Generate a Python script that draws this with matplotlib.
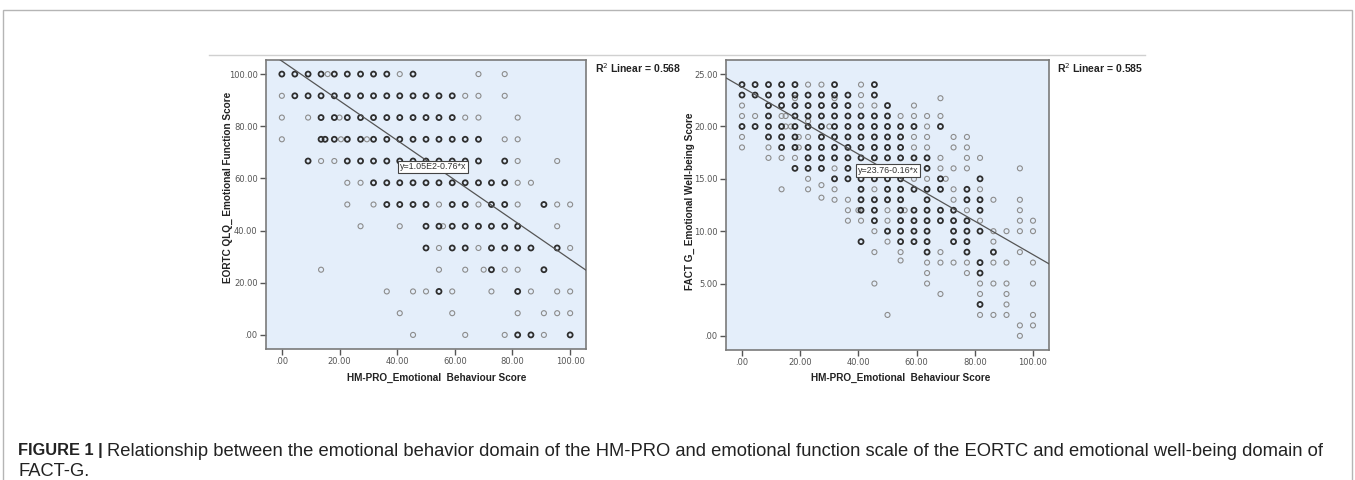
import numpy as np
import matplotlib
matplotlib.use("Agg")
import matplotlib.pyplot as plt
from matplotlib.patches import Rectangle
from matplotlib.lines import Line2D

# ---- data ----
# each row: (y value, x values, darkness per point: b = dark/overlapping, l = light)
eortc_rows = [
    (100.0, [0, 4.5, 9.1, 13.6, 15.9, 18.2, 22.7, 27.3, 31.8, 36.4, 40.9, 45.5, 68.2, 77.3], "bbbblbbbbblbll"),
    (91.67, [0, 4.5, 9.1, 13.6, 18.2, 22.7, 27.3, 31.8, 36.4, 40.9, 45.5, 50, 54.5, 59.1, 63.6, 68.2, 77.3], "lbbbbbbbbbbbbblll"),
    (83.33, [0, 9.1, 13.6, 18.2, 20.0, 22.7, 27.3, 31.8, 36.4, 40.9, 45.5, 50, 54.5, 59.1, 63.6, 68.2, 81.8], "llbblbbbbbbbbblll"),
    (75.0, [0, 13.6, 15.0, 18.2, 20.5, 22.7, 27.3, 29.5, 31.8, 36.4, 40.9, 45.5, 50, 54.5, 59.1, 63.6, 68.2, 77.3, 81.8], "lbbblbblbbbbbbbbbll"),
    (66.67, [9.1, 13.6, 18.2, 22.7, 27.3, 31.8, 36.4, 40.9, 45.5, 50, 54.5, 59.1, 63.6, 68.2, 77.3, 81.8, 95.5], "bllbbbbbbbbbbbbll"),
    (58.33, [22.7, 27.3, 31.8, 36.4, 40.9, 45.5, 50, 54.5, 59.1, 63.6, 68.2, 72.7, 77.3, 81.8, 86.4], "llbbbbbbbbbbbll"),
    (50.0, [22.7, 31.8, 36.4, 40.9, 45.5, 50, 54.5, 59.1, 63.6, 68.2, 72.7, 77.3, 81.8, 90.9, 95.5, 100], "llbbbblbblbblbll"),
    (41.67, [27.3, 40.9, 50, 54.5, 55.9, 59.1, 63.6, 68.2, 72.7, 77.3, 81.8, 95.5], "llbblbbbbbbl"),
    (33.33, [50, 54.5, 59.1, 63.6, 68.2, 72.7, 77.3, 81.8, 86.4, 95.5, 100], "blbblbbbbbl"),
    (25.0, [13.6, 54.5, 63.6, 70.0, 72.7, 77.3, 81.8, 90.9], "llllbllb"),
    (16.67, [36.4, 45.5, 50, 54.5, 59.1, 72.7, 81.8, 86.4, 95.5, 100], "lllbllblll"),
    (8.33, [40.9, 59.1, 81.8, 90.9, 95.5, 100], "llllll"),
    (0.0, [45.5, 63.6, 77.3, 81.8, 86.4, 90.9, 100], "lllbblb"),
]

factg_rows = [
    (24, [0, 4.5, 9.1, 13.6, 18.2, 22.7, 27.3, 31.8, 40.9, 45.5], "bbbbbllblb"),
    (23, [0, 4.5, 9.1, 13.6, 18.2, 22.7, 27.3, 31.8, 36.4, 40.9, 45.5], "bbbbbbbbblb"),
    (22.7, [18.2, 31.8, 68.2], "lll"),
    (22, [0, 9.1, 13.6, 18.2, 22.7, 27.3, 31.8, 36.4, 40.9, 45.5, 50, 59.1], "lbbbbbbbllbl"),
    (21, [0, 4.5, 9.1, 13.6, 15.0, 18.2, 22.7, 27.3, 31.8, 36.4, 40.9, 45.5, 50, 54.5, 59.1, 63.6, 68.2], "llbllbbbbbbbbllll"),
    (20.5, [22.7], "l"),
    (20, [0, 4.5, 9.1, 13.6, 15.0, 16.8, 18.2, 22.7, 27.3, 30.0, 31.8, 36.4, 40.9, 45.5, 50, 54.5, 59.1, 63.6, 68.2], "bbbbllbbblbbbbbbblb"),
    (19, [0, 9.1, 13.6, 18.2, 19.5, 22.7, 27.3, 31.8, 36.4, 40.9, 45.5, 50, 54.5, 59.1, 63.6, 72.7, 77.3], "lbbbllbbbbbbbllll"),
    (18, [0, 9.1, 13.6, 18.2, 19.5, 22.7, 27.3, 31.8, 36.4, 40.9, 45.5, 50, 54.5, 59.1, 63.6, 72.7, 77.3], "llbblbbbbbbbbllll"),
    (17, [9.1, 13.6, 18.2, 22.7, 27.3, 31.8, 36.4, 40.9, 45.5, 50, 54.5, 59.1, 63.6, 68.2, 77.3, 81.8], "lllbbbbbbbbbblll"),
    (16, [18.2, 22.7, 27.3, 31.8, 36.4, 40.9, 45.5, 50, 54.5, 59.1, 63.6, 68.2, 72.7, 77.3, 95.5], "bbblbbbbbbbllll"),
    (15, [22.7, 31.8, 36.4, 40.9, 45.5, 50, 54.5, 59.1, 63.6, 68.2, 70.0, 81.8], "lbbbbbbllblb"),
    (14.4, [27.3], "l"),
    (14, [13.6, 22.7, 31.8, 40.9, 45.5, 50, 54.5, 59.1, 63.6, 68.2, 72.7, 77.3, 81.8], "lllblbbbbblbl"),
    (13.2, [27.3], "l"),
    (13, [31.8, 36.4, 40.9, 45.5, 50, 54.5, 63.6, 72.7, 77.3, 81.8, 86.4, 95.5], "llbbbbblbbll"),
    (12, [36.4, 40.0, 40.9, 45.5, 50, 54.5, 55.9, 59.1, 63.6, 68.2, 72.7, 77.3, 81.8, 95.5], "llbblblbbbblbl"),
    (11, [36.4, 40.9, 45.5, 50, 54.5, 59.1, 63.6, 68.2, 72.7, 77.3, 81.8, 95.5, 100], "llblbbbbbblll"),
    (10, [45.5, 50, 54.5, 59.1, 63.6, 72.7, 77.3, 81.8, 86.4, 90.9, 95.5, 100], "lbbbbbbbllll"),
    (9, [40.9, 50, 54.5, 59.1, 63.6, 72.7, 77.3, 86.4], "blbbbbbl"),
    (8, [45.5, 54.5, 63.6, 68.2, 77.3, 86.4, 95.5], "llblbbl"),
    (7.2, [54.5], "l"),
    (7, [63.6, 68.2, 72.7, 77.3, 81.8, 86.4, 90.9, 100], "llllblll"),
    (6, [63.6, 77.3, 81.8], "llb"),
    (5, [45.5, 63.6, 81.8, 86.4, 90.9, 100], "llllll"),
    (4, [68.2, 81.8, 90.9], "lll"),
    (3, [81.8, 90.9], "bl"),
    (2, [50, 81.8, 86.4, 90.9, 100], "lllll"),
    (1, [95.5, 100], "ll"),
    (0, [95.5], "l"),
]

eortc_fit = (105.0, -0.76)
factg_fit = (23.76, -0.16)
eortc_r2 = 0.568
factg_r2 = 0.585

x_ticks = [0, 20, 40, 60, 80, 100]
eortc_yticks = [0, 20, 40, 60, 80, 100]
factg_yticks = [0, 5, 10, 15, 20, 25]

caption_head = "FIGURE 1 | "
caption_line1 = ("Relationship between the emotional behavior domain of the HM-PRO and emotional function scale "
                 "of the EORTC and emotional well-being domain of")
caption_line2 = "FACT-G."

W, H = 1355, 480
fig = plt.figure(figsize=(W / 100, H / 100), dpi=100)
fig.patch.set_facecolor("white")

# outer frame and top rule
fig.patches.append(Rectangle((3 / W, -0.02), (W - 6) / W, 1.0, transform=fig.transFigure,
                             fill=False, edgecolor="#b5b5b5", lw=1.0))
fig.lines.append(Line2D([209 / W, 1145 / W], [1 - 55 / H, 1 - 55 / H], transform=fig.transFigure,
                        color="#d0d0d0", lw=1.0))

lab_font = dict(family="Liberation Sans", weight="bold", size=7.2, color="#222222")


def tick_fmt(v):
    s = "%.2f" % v
    return s[1:] if s.startswith("0") else s


def draw_panel(rect, rows, fit, r2, yticks, ylim, eq_text, eq_pos, ylabel, ylab_xy, r2_xy, xlab_x):
    ax = fig.add_axes(rect)
    ax.set_facecolor("#e4eefa")
    lx, ly, bx, by = [], [], [], []
    for y, xs, marks in rows:
        for x, m in zip(xs, marks):
            if m == "b":
                bx.append(x); by.append(y)
            else:
                lx.append(x); ly.append(y)
    ax.scatter(lx, ly, s=13, facecolors="none", edgecolors="#8c8c8c", linewidths=0.8, zorder=3)
    ax.scatter(bx, by, s=13, facecolors="none", edgecolors="#2e2e2e", linewidths=1.3, zorder=3)

    xx = np.array([-5.5, 105.5])
    ax.plot(xx, fit[0] + fit[1] * xx, color="#555555", lw=0.9, zorder=4)

    ax.text(eq_pos[0], eq_pos[1], eq_text, fontsize=6.4, family="Liberation Sans", color="#333333",
            ha="center", va="center", zorder=6,
            bbox=dict(boxstyle="square,pad=0.2", facecolor="white", edgecolor="#444444", lw=0.8))

    ax.set_xlim(-5.5, 105.5)
    ax.set_ylim(*ylim)
    ax.set_xticks(x_ticks)
    ax.set_xticklabels([tick_fmt(v) for v in x_ticks])
    ax.set_yticks(yticks)
    ax.set_yticklabels([tick_fmt(v) for v in yticks])
    ax.tick_params(length=4, width=1.0, color="#555555", labelsize=6, labelcolor="#555555", pad=2)
    for sp in ax.spines.values():
        sp.set_color("#7a7a7a")
        sp.set_linewidth(1.2)

    fig.text(xlab_x / W, 1 - 378 / H, "HM-PRO_Emotional  Behaviour Score", ha="center", va="center", **lab_font)
    fig.text(ylab_xy[0] / W, 1 - ylab_xy[1] / H, ylabel, rotation=90, ha="center", va="center", **lab_font)
    fig.text(r2_xy[0] / W, 1 - r2_xy[1] / H, "R$^2$ Linear = %.3f" % r2, ha="left", va="center",
             family="Liberation Sans", weight="bold", size=7.5, color="#222222")
    return ax


draw_panel([266 / W, (H - 349) / H, 320 / W, 289 / H], eortc_rows, eortc_fit, eortc_r2,
           eortc_yticks, (-5.4, 105.4), "y=1.05E2-0.76*x", (52.4, 64.4),
           "EORTC QLQ_ Emotional Function Score", (228, 187), (595, 68), 437)

draw_panel([726 / W, (H - 350) / H, 323 / W, 290 / H], factg_rows, factg_fit, factg_r2,
           factg_yticks, (-1.35, 26.35), "y=23.76-0.16*x", (50.2, 15.8),
           "FACT G_ Emotional Well-being Score", (690, 201), (1057, 68), 901)

# caption
head = fig.text(18 / W, 1 - 451 / H, caption_head, family="Liberation Sans", weight="bold",
                size=11.8, color="#222222", ha="left", va="center")
fig.canvas.draw()
hb = head.get_window_extent(fig.canvas.get_renderer())
fig.text(hb.x1 / W, 1 - 451 / H, caption_line1, family="Liberation Sans", size=13.2,
         color="#222222", ha="left", va="center")
fig.text(18 / W, 1 - 471 / H, caption_line2, family="Liberation Sans", size=13.2,
         color="#222222", ha="left", va="center")

fig.savefig("out.png", dpi=100)
